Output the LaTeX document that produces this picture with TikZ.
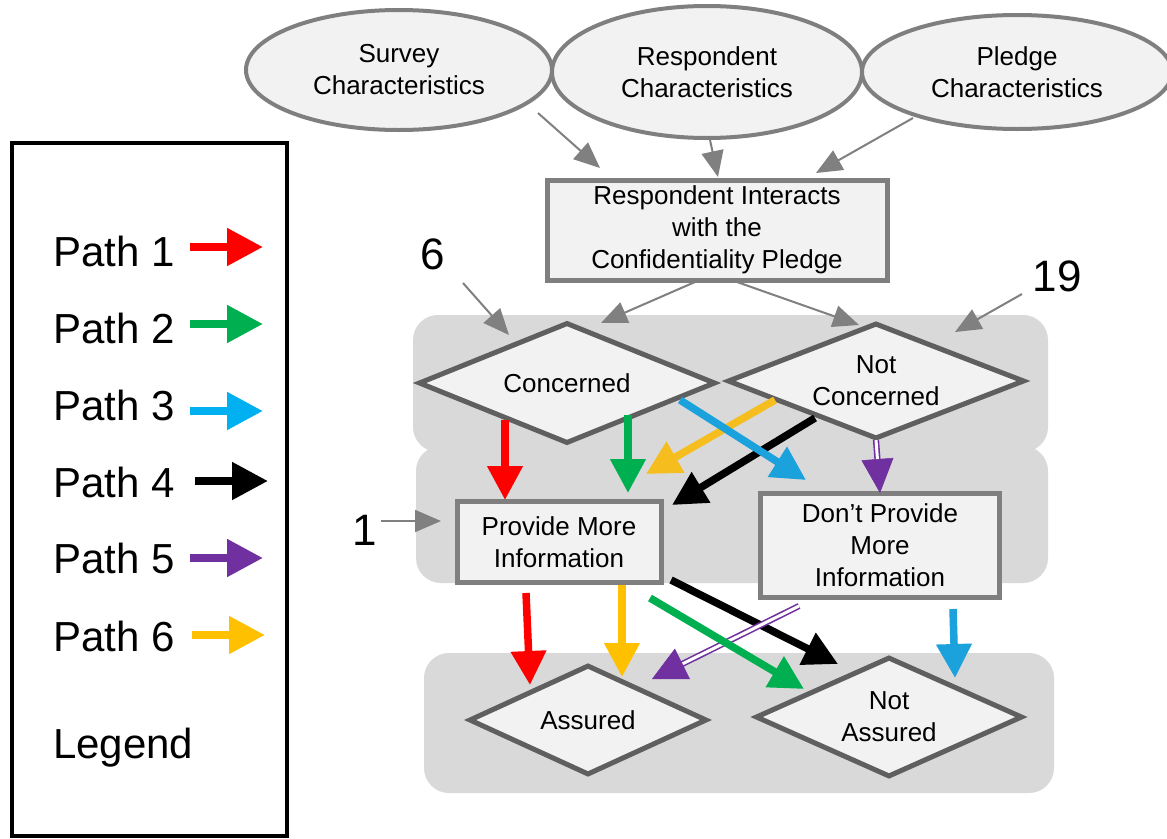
\documentclass[tikz,border=0pt]{standalone}
\usepackage{fontspec}
\setmainfont{Liberation Sans}
\usetikzlibrary{shapes.geometric,arrows.meta,calc}
\definecolor{boxfill}{HTML}{F2F2F2}
\definecolor{boxline}{HTML}{7F7F7F}
\definecolor{diaLine}{HTML}{5F5F5F}
\definecolor{bandgray}{HTML}{D9D9D9}
\definecolor{arrowgray}{HTML}{808080}
\definecolor{pred}{HTML}{FF0000}
\definecolor{pgreen}{HTML}{00B050}
\definecolor{pblue}{HTML}{1BA1DB}
\definecolor{lblue}{HTML}{00B0F0}
\definecolor{ppurple}{HTML}{7030A0}
\definecolor{pyellow}{HTML}{FFC000}
\definecolor{pyellowA}{HTML}{F5BE1E}
\begin{document}
\begin{tikzpicture}[x=1pt,y=-1pt,
  every node/.style={font=\fontsize{26}{32}\selectfont, text=black},
  ell/.style={ellipse, draw=boxline, fill=boxfill, line width=4pt, inner sep=0pt, align=center},
  rbox/.style={rectangle, draw=boxline, fill=boxfill, line width=5pt, inner sep=0pt, align=center},
  dia/.style={diamond, draw=diaLine, fill=boxfill, line width=5pt, inner sep=0pt, align=center, aspect=2.5},
  garrow/.style={draw=arrowgray, line width=2pt, -{Triangle[length=26pt,width=22pt]}},
  carrow/.style={line width=7.5pt, -{Triangle[length=34pt,width=34pt]}},
  larrow/.style={line width=8pt, -{Triangle[length=36pt,width=36pt]}},
  bignum/.style={font=\fontsize{44}{50}\selectfont},
  legtext/.style={font=\fontsize{42}{48}\selectfont, anchor=base west, inner sep=0pt},
  dblline/.style={draw=ppurple, line width=1.6pt, double=white, double distance=3pt},
]
\useasboundingbox (0,0) rectangle (1167,838);
\fill[white] (0,0) rectangle (1167,838);

% background bands
\fill[bandgray, rounded corners=25pt] (413,315) rectangle (1048,452);
\fill[bandgray, rounded corners=25pt] (416,446) rectangle (1048,583);
\fill[bandgray, rounded corners=25pt] (424,653) rectangle (1054,793);

% legend
\draw[black, line width=4pt] (12,143) rectangle (287,836);
\node[legtext] (l1) at (53,266) {Path 1};
\node[legtext] (l2) at (53,343) {Path 2};
\node[legtext] (l3) at (53,420) {Path 3};
\node[legtext] (l4) at (53,497) {Path 4};
\node[legtext] (l5) at (53,573) {Path 5};
\node[legtext] (l6) at (53,651) {Path 6};
\node[legtext] (lg) at (53,758) {Legend};
\coordinate (l1s) at (190,247); \coordinate (l1e) at (263,247);
\coordinate (l2s) at (190,324); \coordinate (l2e) at (263,324);
\coordinate (l3s) at (190,411); \coordinate (l3e) at (263,411);
\coordinate (l4s) at (195,481); \coordinate (l4e) at (268,481);
\coordinate (l5s) at (190,558); \coordinate (l5e) at (263,558);
\coordinate (l6s) at (192,635); \coordinate (l6e) at (265,635);
\draw[larrow, pred] (l1s) -- (l1e);
\draw[larrow, pgreen] (l2s) -- (l2e);
\draw[larrow, lblue] (l3s) -- (l3e);
\draw[larrow, black] (l4s) -- (l4e);
\draw[larrow, ppurple] (l5s) -- (l5e);
\draw[larrow, pyellow] (l6s) -- (l6e);

% ellipses
\node[ell, minimum width=306pt, minimum height=120pt] (sc) at (399,70) {Survey\\Characteristics};
\node[ell, minimum width=310pt, minimum height=132pt] (rc) at (707,72) {Respondent\\Characteristics};
\node[ell, minimum width=310pt, minimum height=114pt] (pc) at (1017,72) {Pledge\\Characteristics};

% main box
\node[rbox, minimum width=340pt, minimum height=100pt] (ri) at (717,230) {Respondent Interacts\\with the\\Confidentiality Pledge};

% diamonds
\node[dia, minimum width=297pt, minimum height=121pt] (conc) at (567,383) {Concerned};
\node[dia, minimum width=297pt, minimum height=116pt] (nconc) at (876,381) {Not\\Concerned};

% boxes
\node[rbox, minimum width=204pt, minimum height=81pt] (pmi) at (559,542) {Provide More\\Information};
\node[rbox, minimum width=239pt, minimum height=104pt] (dpmi) at (880,545) {Don’t Provide\\More\\Information};

% bottom diamonds
\node[dia, minimum width=238pt, minimum height=110pt] (as) at (588,720) {Assured};
\node[dia, minimum width=267pt, minimum height=120pt] (nas) at (889,717) {Not\\Assured};

% numbers
\node[bignum] (n6) at (433,254) {6};
\node[bignum] (n19) at (1057,276) {19};
\node[bignum] (n1) at (365,530) {1};

% gray arrows
\coordinate (g6s) at (463,283); \coordinate (g6e) at (509,335);
\coordinate (g19s) at (1022,294); \coordinate (g19e) at (955,332);
\coordinate (g1s) at (381,521); \coordinate (g1e) at (441,521);
\coordinate (gss) at (538,113); \coordinate (gse) at (600,168);
\coordinate (grs) at (710,140); \coordinate (gre) at (718,177);
\coordinate (gps) at (913,118); \coordinate (gpe) at (816,173);
\coordinate (gcs) at (695,282); \coordinate (gce) at (601,323);
\coordinate (gns) at (737,282); \coordinate (gne) at (859,325);
\draw[garrow] (g6s) -- (g6e);
\draw[garrow] (g19s) -- (g19e);
\draw[garrow] (g1s) -- (g1e);
\draw[garrow] (gss) -- (gse);
\draw[garrow] (grs) -- (gre);
\draw[garrow] (gps) -- (gpe);
\draw[garrow] (gcs) -- (gce);
\draw[garrow] (gns) -- (gne);

% coloured path arrows, upper level
\coordinate (r1s) at (505,420); \coordinate (r1e) at (505,500);
\coordinate (gr1s) at (628,415); \coordinate (gr1e) at (628,493);
\coordinate (y1s) at (775,400); \coordinate (y1e) at (646,474);
\coordinate (b1s) at (680,400); \coordinate (b1e) at (806,480);
\coordinate (k1s) at (815,418); \coordinate (k1e) at (672,505);
\coordinate (p1s) at (876,440); \coordinate (p1e) at (880,493);
\draw[carrow, pred] (r1s) -- (r1e);
\draw[carrow, pgreen] (gr1s) -- (gr1e);
\draw[carrow, pyellowA] (y1s) -- (y1e);
\draw[carrow, black] (k1s) -- (k1e);
\draw[carrow, pblue] (b1s) -- (b1e);
\draw[dblline, shorten >=32pt] (p1s) -- (p1e);
\draw[ppurple, line width=0.5pt, -{Triangle[length=34pt,width=32pt]}] ($(p1e)!34pt!(p1s)$) -- (p1e);

% coloured path arrows, lower level
\coordinate (r2s) at (526,593); \coordinate (r2e) at (530,685);
\coordinate (y2s) at (622,585); \coordinate (y2e) at (622,677);
\coordinate (gr2s) at (650,598); \coordinate (gr2e) at (804,689);
\coordinate (k2s) at (671,580); \coordinate (k2e) at (838,664);
\coordinate (p2s) at (799,606); \coordinate (p2e) at (652,679);
\coordinate (b2s) at (953,609); \coordinate (b2e) at (955,678);
\draw[carrow, pred] (r2s) -- (r2e);
\draw[carrow, pyellow] (y2s) -- (y2e);
\draw[carrow, black] (k2s) -- (k2e);
\draw[dblline, shorten >=32pt] (p2s) -- (p2e);
\draw[ppurple, line width=0.5pt, -{Triangle[length=34pt,width=34pt]}] ($(p2e)!34pt!(p2s)$) -- (p2e);
\draw[carrow, pgreen] (gr2s) -- (gr2e);
\draw[carrow, pblue] (b2s) -- (b2e);
\end{tikzpicture}
\end{document}
